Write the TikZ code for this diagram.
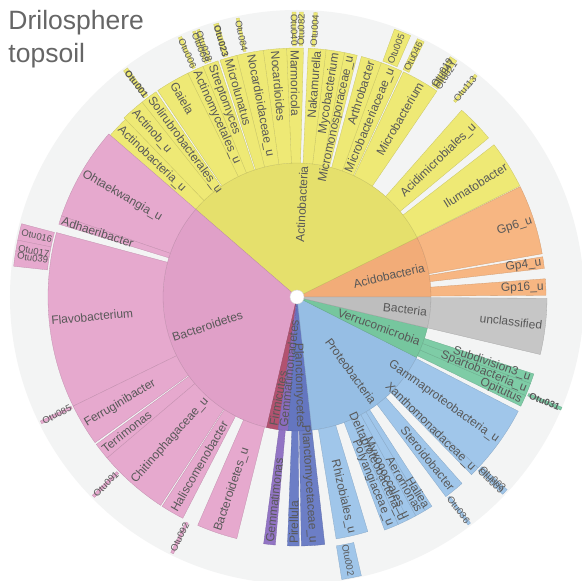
\documentclass[tikz,border=0pt]{standalone}
\usepackage{fontspec}
\setmainfont{Liberation Sans}

\definecolor{bgdisk}{RGB}{243,244,244}
\definecolor{txtgray}{RGB}{88,88,88}
\definecolor{titlegray}{RGB}{102,102,102}
\definecolor{acidoIn}{RGB}{242,172,120}
\definecolor{acidoOut}{RGB}{247,182,130}
\definecolor{actinoIn}{RGB}{229,224,108}
\definecolor{actinoOut}{RGB}{238,233,117}
\definecolor{bactIn}{RGB}{224,160,200}
\definecolor{bactOut}{RGB}{230,169,206}
\definecolor{firmiIn}{RGB}{178,82,112}
\definecolor{gemmaIn}{RGB}{138,108,190}
\definecolor{gemmaOut}{RGB}{146,116,196}
\definecolor{planctoIn}{RGB}{100,118,192}
\definecolor{planctoOut}{RGB}{108,126,198}
\definecolor{proteoIn}{RGB}{150,190,228}
\definecolor{proteoOut}{RGB}{160,198,234}
\definecolor{verruIn}{RGB}{118,198,158}
\definecolor{verruOut}{RGB}{126,204,166}
\definecolor{bacIn}{RGB}{190,190,190}
\definecolor{bacOut}{RGB}{198,198,198}

% ring piece: start angle, end angle, inner radius, outer radius, colour
\newcommand{\piece}[5]{\filldraw[fill=#5, draw=#5!85!black, line width=0.3pt]
    (#1:#3pt) arc[start angle=#1, end angle=#2, radius=#3pt]
    -- (#2:#4pt) arc[start angle=#2, end angle=#1, radius=#4pt] -- cycle;}
% labels: name, angle, radius, style, text
\newcommand{\labR}[5]{\node[#4, anchor=east, rotate=#2] (#1) at (#2:#3pt) {#5};}
\newcommand{\labL}[5]{\node[#4, anchor=west, rotate=#2-180] (#1) at (#2:#3pt) {#5};}

\begin{document}
\begin{tikzpicture}

    % Define label styles
    \tikzstyle{plabel} = [inner sep=0pt, text=txtgray, font=\fontsize{12}{12}\selectfont]
    \tikzstyle{olabel} = [inner sep=0pt, text=txtgray, font=\fontsize{9.5}{9.5}\selectfont]
    \tikzstyle{title} = [inner sep=0pt, text=titlegray, font=\fontsize{26.5}{26.5}\selectfont]

    \useasboundingbox (-297pt,-284pt) rectangle (285pt,297pt);
    \fill[white] (-297pt,-284pt) rectangle (285pt,297pt);
    \fill[bgdisk] (0,0) circle (287pt);

    % Phylum ring
    \piece{0}{26.3}{1}{134}{acidoIn}
    \piece{26.3}{139.1}{1}{134}{actinoIn}
    \piece{139.1}{256.9}{1}{134}{bactIn}
    \piece{256.9}{261.9}{1}{134}{firmiIn}
    \piece{261.9}{266.2}{1}{134}{gemmaIn}
    \piece{266.2}{276.4}{1}{134}{planctoIn}
    \piece{276.4}{333.2}{1}{134}{proteoIn}
    \piece{333.2}{346.6}{1}{134}{verruIn}
    \piece{346.6}{360}{1}{134}{bacIn}

    % Genus ring
    \piece{10}{26.3}{134}{249}{acidoOut}
    \piece{6.6}{9.3}{134}{249}{acidoOut}
    \piece{0.4}{4.2}{134}{249}{acidoOut}
    \piece{26.5}{37.7}{134}{249}{actinoOut}
    \piece{39.7}{48.6}{134}{249}{actinoOut}
    \piece{55.8}{64.7}{134}{249}{actinoOut}
    \piece{65.1}{70.2}{134}{249}{actinoOut}
    \piece{70.2}{75}{134}{249}{actinoOut}
    \piece{76}{79}{134}{249}{actinoOut}
    \piece{79}{83.3}{134}{249}{actinoOut}
    \piece{83.3}{87.4}{134}{249}{actinoOut}
    \piece{88.5}{92.4}{134}{249}{actinoOut}
    \piece{92.4}{97.8}{134}{249}{actinoOut}
    \piece{97.8}{104}{134}{249}{actinoOut}
    \piece{104}{108}{134}{249}{actinoOut}
    \piece{108.5}{112.2}{134}{249}{actinoOut}
    \piece{112.2}{116}{134}{249}{actinoOut}
    \piece{116}{124}{134}{249}{actinoOut}
    \piece{124.5}{128.5}{134}{249}{actinoOut}
    \piece{128.5}{134}{134}{249}{actinoOut}
    \piece{134}{139.1}{134}{247}{actinoOut}
    \piece{139.1}{161}{134}{249}{bactOut}
    \piece{161}{163}{134}{249}{bactOut}
    \piece{165}{206}{134}{249}{bactOut}
    \piece{206}{215.8}{134}{249}{bactOut}
    \piece{216.3}{220.3}{134}{249}{bactOut}
    \piece{220.3}{236.8}{134}{249}{bactOut}
    \piece{237.2}{242.7}{134}{249}{bactOut}
    \piece{246.5}{256}{134}{249}{bactOut}
    \piece{262.3}{265}{134}{249}{gemmaOut}
    \piece{267.8}{270.5}{134}{249}{planctoOut}
    \piece{271}{276.4}{134}{249}{planctoOut}
    \piece{279.2}{286.8}{134}{245}{proteoOut}
    \piece{290.6}{294}{134}{249}{proteoOut}
    \piece{294}{296.5}{134}{249}{proteoOut}
    \piece{296.5}{298.5}{134}{249}{proteoOut}
    \piece{298.5}{301}{134}{249}{proteoOut}
    \piece{301}{302.8}{134}{249}{proteoOut}
    \piece{306.7}{311.5}{134}{249}{proteoOut}
    \piece{314.5}{316.7}{134}{249}{proteoOut}
    \piece{316.7}{332.7}{134}{249}{proteoOut}
    \piece{334}{336.7}{134}{249}{verruOut}
    \piece{336.7}{339.7}{134}{249}{verruOut}
    \piece{339.7}{342}{134}{249}{verruOut}
    \piece{346.7}{359.7}{134}{250}{bacOut}

    % OTU ring
    \piece{126.5}{127.5}{251}{285}{actinoOut}
    \piece{113.9}{114.6}{251}{285}{actinoOut}
    \piece{110.9}{111.5}{251}{285}{actinoOut}
    \piece{110}{110.6}{251}{285}{actinoOut}
    \piece{106}{107}{251}{285}{actinoOut}
    \piece{101.7}{102.3}{251}{285}{actinoOut}
    \piece{90.2}{91}{251}{285}{actinoOut}
    \piece{88.7}{89.5}{251}{285}{actinoOut}
    \piece{85.9}{86.6}{251}{285}{actinoOut}
    \piece{66.5}{70}{251}{285}{actinoOut}
    \piece{63.5}{65}{251}{285}{actinoOut}
    \piece{55.9}{57.5}{251}{285}{actinoOut}
    \piece{50.8}{51.4}{251}{285}{actinoOut}
    \piece{336.8}{337.4}{251}{287}{verruOut}
    \piece{316.2}{317.5}{251}{285}{proteoOut}
    \piece{306.9}{307.5}{251}{285}{proteoOut}
    \piece{279}{283}{252}{286}{proteoOut}
    \piece{243.7}{244.3}{251}{285}{bactOut}
    \piece{224.1}{224.7}{251}{285}{bactOut}
    \piece{205.8}{206.4}{251}{285}{bactOut}
    \piece{165.1}{168.5}{251}{285}{bactOut}
    \piece{168.5}{170.7}{251}{285}{bactOut}
    \piece{170.7}{173.8}{251}{285}{bactOut}

    \filldraw[fill=white, draw=gray!30] (0,0) circle (7pt);

    % Phylum labels
    \labR{acido}{13}{131}{plabel}{Acidobacteria}
    \labR{actino}{87}{131}{plabel}{Actinobacteria}
    \labL{bacteroid}{198}{131}{plabel}{Bacteroidetes}
    \labL{firmi}{259.5}{131}{plabel}{Firmicutes}
    \labL{gemma}{264}{131}{plabel}{Gemmatimonadetes}
    \labR{plancto}{-88.5}{131}{plabel}{Planctomycetes}
    \labR{proteo}{-54}{131}{plabel}{Proteobacteria}
    \labR{verru}{-20}{131}{plabel}{Verrucomicrobia}
    \labR{bacteria}{-6.5}{131}{plabel}{Bacteria}

    % Genus labels
    \labR{gpsix}{18}{247}{plabel}{Gp6\_u}
    \labR{gpfour}{7.9}{247}{plabel}{Gp4\_u}
    \labR{gpsixteen}{2.3}{247}{plabel}{Gp16\_u}
    \labR{iluma}{32}{247}{plabel}{Ilumatobacter}
    \labR{acidimic}{44}{247}{plabel}{Acidimicrobiales\_u}
    \labR{microbact}{60}{247}{plabel}{Microbacterium}
    \labR{microbfam}{67.5}{247}{plabel}{Microbacteriaceae\_u}
    \labR{arthro}{72.6}{247}{plabel}{Arthrobacter}
    \labR{micromono}{77.5}{247}{plabel}{Micromonosporaceae\_u}
    \labR{myco}{81}{247}{plabel}{Mycobacterium}
    \labR{nakamu}{85.4}{247}{plabel}{Nakamurella}
    \labL{marmo}{90.5}{247}{plabel}{Marmoricola}
    \labL{nocard}{95.1}{247}{plabel}{Nocardioides}
    \labL{nocardfam}{100.9}{247}{plabel}{Nocardioidaceae\_u}
    \labL{microlun}{106}{247}{plabel}{Microlunatus}
    \labL{strepto}{110.3}{247}{plabel}{Streptomyces}
    \labL{actinomyc}{114.1}{247}{plabel}{Actinomycetales\_u}
    \labL{gaiela}{120}{247}{plabel}{Gaiela}
    \labL{soliru}{126.5}{247}{plabel}{Solirubrobacterales\_u}
    \labL{actinob}{131.3}{247}{plabel}{Actinob\_u}
    \labL{actinou}{136.5}{245}{plabel}{Actinobacteria\_u}
    \labL{ohtae}{150}{247}{plabel}{Ohtaekwangia\_u}
    \labL{adhaeri}{162}{247}{plabel}{Adhaeribacter}
    \labL{flavo}{185.5}{247}{plabel}{Flavobacterium}
    \labL{ferrugi}{211}{247}{plabel}{Ferruginibacter}
    \labL{terri}{218.3}{247}{plabel}{Terrimonas}
    \labL{chitino}{228.5}{247}{plabel}{Chitinophagaceae\_u}
    \labL{halisco}{240}{247}{plabel}{Haliscomenobacter}
    \labL{bacteru}{251.3}{247}{plabel}{Bacteroidetes\_u}
    \labL{gemmatim}{263.6}{247}{plabel}{Gemmatimonas}
    \labL{pirell}{269.2}{247}{plabel}{Pirellula}
    \labR{planctfam}{-86.3}{247}{plabel}{Planctomycetaceae\_u}
    \labR{rhizo}{-77}{243}{plabel}{Rhizobiales\_u}
    \labR{polyang}{-67.8}{247}{plabel}{Polyangiaceae\_u}
    \labR{delta}{-64.8}{247}{plabel}{Deltaproteobacteria\_u}
    \labR{myxo}{-63.6}{247}{plabel}{Myxococcales\_u}
    \labR{aeromo}{-60.2}{247}{plabel}{Aeromonas}
    \labR{haliea}{-58.2}{247}{plabel}{Haliea}
    \labR{steroido}{-51}{247}{plabel}{Steroidobacter}
    \labR{xantho}{-44.3}{247}{plabel}{Xanthomonadaceae\_u}
    \labR{gamma}{-35.5}{247}{plabel}{Gammaproteobacteria\_u}
    \labR{opitu}{-24.7}{247}{plabel}{Opitutus}
    \labR{sparto}{-21.8}{247}{plabel}{Spartobacteria\_u}
    \labR{subdiv}{-19}{247}{plabel}{Subdivision3\_u}
    \labR{unclass}{-6.6}{247}{plabel}{unclassified}

    % OTU labels
    \labL{otuone}{127}{283}{olabel}{\bfseries Otu001}
    \labL{otusix}{114.2}{283}{olabel}{Otu006}
    \labL{otueight}{111.2}{283}{olabel}{Otu008}
    \labL{otutwoeight}{110.3}{283}{olabel}{Otu028}
    \labL{otutwothree}{106.5}{283}{olabel}{\bfseries Otu023}
    \labL{otueightfour}{102}{283}{olabel}{Otu084}
    \labL{otufourty}{90.6}{283}{olabel}{Otu040}
    \labR{otueighttwo}{89.1}{283}{olabel}{Otu082}
    \labR{otufour}{86.2}{283}{olabel}{Otu004}
    \labR{otufive}{68.2}{283}{olabel}{Otu005}
    \labR{otufoursix}{64.2}{283}{olabel}{Otu046}
    \labR{otunineteen}{57.2}{283}{olabel}{Otu019}
    \labR{otufourseven}{56.7}{283}{olabel}{Otu047}
    \labR{otutwoone}{56}{283}{olabel}{Otu021}
    \labR{otuonethree}{51.1}{283}{olabel}{Otu113}
    \labR{otuthreeone}{-22.9}{285}{olabel}{\bfseries Otu031}
    \labR{otunine}{-43.5}{283}{olabel}{Otu009}
    \labR{otuthree}{-42.8}{283}{olabel}{Otu003}
    \labR{otuthreesix}{-52.8}{283}{olabel}{Otu036}
    \labR{otutwo}{-79}{284}{olabel}{Otu002}
    \labL{otuninetwo}{244}{283}{olabel}{Otu092}
    \labL{otunineone}{224.4}{283}{olabel}{Otu091}
    \labL{otueightfive}{206.1}{283}{olabel}{Otu085}
    \labL{otusixteen}{166.8}{283}{olabel}{Otu016}
    \labL{otuseventeen}{170.1}{283}{olabel}{Otu017}
    \labL{otuthirtynine}{171.6}{283}{olabel}{Otu039}

    % Title
    \node[title, anchor=base west] (titleone) at (-288.7pt,267.5pt) {Drilosphere};
    \node[title, anchor=base west] (titletwo) at (-288.7pt,234.3pt) {topsoil};

\end{tikzpicture}
\end{document}
